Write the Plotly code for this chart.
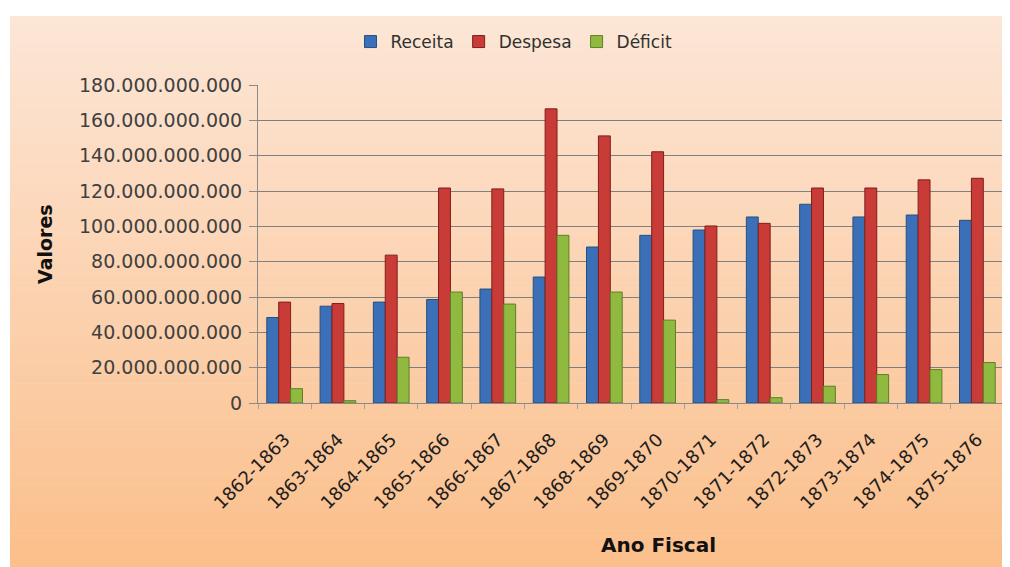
import plotly.graph_objects as go

# Ano fiscal (categories)
anos = ["1862-1863", "1863-1864", "1864-1865", "1865-1866", "1866-1867",
        "1867-1868", "1868-1869", "1869-1870", "1870-1871", "1871-1872",
        "1872-1873", "1873-1874", "1874-1875", "1875-1876"]

# values in reais
receita = [48.4e9, 54.8e9, 57.1e9, 58.6e9, 64.5e9, 71.3e9, 88.3e9,
           94.9e9, 97.9e9, 105.3e9, 112.5e9, 105.3e9, 106.4e9, 103.4e9]
despesa = [57.1e9, 56.3e9, 83.7e9, 121.7e9, 121.2e9, 166.5e9, 151.2e9,
           142.2e9, 100.2e9, 101.7e9, 121.7e9, 121.7e9, 126.3e9, 127.2e9]
deficit = [8.1e9, 1.3e9, 25.9e9, 62.8e9, 56.0e9, 94.9e9, 62.8e9,
           46.9e9, 1.9e9, 3.0e9, 9.5e9, 16.1e9, 18.9e9, 22.9e9]

# page body has an 8px margin, so everything is laid out 8px up/left
off = 8
W, H = 1010 - off, 567 - off
ml, mr, mt, mb = 258 - off, 6, 85 - off, 164
pw = W - ml - mr
ph = H - mt - mb

series = [
    ("Receita", receita, "#3b70b8", "#24507f"),
    ("Despesa", despesa, "#c93b37", "#7f1f1d"),
    ("Déficit", deficit, "#8fba3f", "#5f7f26"),
]

fig = go.Figure()
for name, vals, col, edge in series:
    fig.add_trace(go.Bar(
        x=anos, y=vals, name=name,
        marker=dict(color=col, line=dict(color=edge, width=1)),
    ))

def px_x(p):
    return (p - off - ml) / pw

def px_y(p):
    return (H - mb - (p - off)) / ph

# background gradient as thin bands (figure area starts at x=10, y=16 on screen)
top = (252, 230, 214)
bot = (251, 191, 139)
n = 60
y0px, y1px = 16, 567
shapes = []
for i in range(n):
    t = i / (n - 1)
    c = tuple(round(top[k] + (bot[k] - top[k]) * t) for k in range(3))
    a = y0px + (y1px - y0px) * i / n
    b = y0px + (y1px - y0px) * (i + 1) / n + 0.5
    shapes.append(dict(
        type="rect", xref="paper", yref="paper", layer="below",
        x0=px_x(10), x1=px_x(1012),
        y0=px_y(b), y1=px_y(a),
        fillcolor="rgb(%d,%d,%d)" % c, line=dict(width=0),
    ))

fig.update_layout(
    width=W, height=H,
    margin=dict(l=ml, r=mr, t=mt, b=mb),
    paper_bgcolor="white",
    plot_bgcolor="rgba(0,0,0,0)",
    separators=",.",
    font=dict(family="DejaVu Sans", color="#404040"),
    barmode="group",
    bargap=0.33,
    bargroupgap=0,
    shapes=shapes,
    legend=dict(orientation="h", xref="container", x=0.505, xanchor="center",
                yref="container", y=1 - (42 - off) / H, yanchor="middle",
                font=dict(size=17, color="#303030"),
                bgcolor="rgba(0,0,0,0)", itemwidth=30),
    xaxis=dict(
        tickangle=-45, tickfont=dict(size=18, color="#202020"),
        showline=True, linecolor="#8a8a8a", linewidth=1,
        ticks="outside", tickson="boundaries", ticklen=5, tickcolor="#a0a0a0",
        ticklabelstandoff=18,
    ),
    yaxis=dict(
        range=[0, 180e9], dtick=20e9, tickformat=",d",
        tickfont=dict(size=19, color="#404040"),
        showgrid=True, gridcolor="#7f7f7f", gridwidth=1,
        showline=True, linecolor="#8a8a8a", linewidth=1,
        ticks="outside", ticklen=8, tickcolor="#8a8a8a",
        ticklabelstandoff=3,
        zeroline=False,
    ),
    annotations=[
        dict(text="<b>Ano Fiscal</b>", xref="paper", yref="paper",
             x=px_x(658), y=px_y(545), xanchor="center", yanchor="middle",
             showarrow=False, font=dict(size=20, color="#111111")),
        dict(text="<b>Valores</b>", xref="paper", yref="paper", textangle=-90,
             x=px_x(45), y=px_y(244), xanchor="center", yanchor="middle",
             showarrow=False, font=dict(size=19, color="#111111")),
    ],
)

fig.write_html("out.html")
